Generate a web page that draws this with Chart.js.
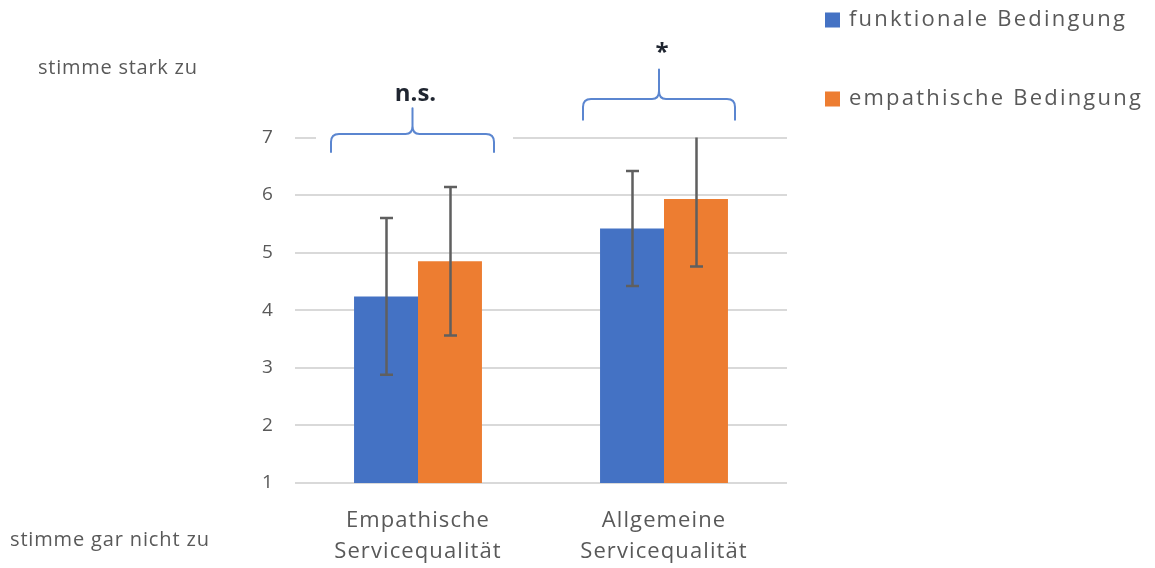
<!DOCTYPE html>
<html lang="de">
<head>
<meta charset="utf-8">
<title>Servicequalität nach Bedingung</title>
<script src="https://cdn.jsdelivr.net/npm/chart.js@4.4.0/dist/chart.umd.min.js"></script>
<style>
  html, body { margin: 0; padding: 0; background: #ffffff; }
  #wrap { width: 1155px; height: 568px; position: relative; }
</style>
</head>
<body>
<div id="wrap"><canvas id="chart" width="1155" height="568"></canvas></div>
<script>
// Categories and series
const categories = [['Empathische', 'Servicequalität'], ['Allgemeine', 'Servicequalität']];
const seriesNames = ['funktionale Bedingung', 'empathische Bedingung'];
const funktionalMeans = [4.24, 5.42];
const empathischMeans = [4.85, 5.93];
const funktionalSD = [1.36, 1.00];
const empathischSD = [1.29, 1.17];
const yTickValues = [1, 2, 3, 4, 5, 6, 7];
const significanceLabels = ['n.s.', '*'];
const scaleEndLabels = ['stimme stark zu', 'stimme gar nicht zu'];

const BLUE = '#4472C4';
const ORANGE = '#ED7D31';
const GREY_TEXT = '#595959';
const FONT = '"Open Sans", "Noto Sans", sans-serif';

// Slightly tracked axis text
const textTracking = {
  id: 'textTracking',
  beforeDraw(chart) { chart.ctx.letterSpacing = '1.1px'; },
  afterDatasetsDraw(chart) { chart.ctx.letterSpacing = '0px'; }
};

// Error bars (mean ± SD), clipped to the plot area
const errorBars = {
  id: 'errorBars',
  afterDatasetsDraw(chart) {
    const { ctx, chartArea, scales: { y } } = chart;
    const sds = [funktionalSD, empathischSD];
    ctx.save();
    ctx.strokeStyle = '#5f5f5f';
    ctx.lineWidth = 2.5;
    chart.data.datasets.forEach((ds, di) => {
      const meta = chart.getDatasetMeta(di);
      meta.data.forEach((bar, i) => {
        const v = ds.data[i];
        const sd = sds[di][i];
        let top = y.getPixelForValue(v + sd);
        let bottom = y.getPixelForValue(v - sd);
        const clippedTop = top < chartArea.top;
        const clippedBottom = bottom > chartArea.bottom;
        top = Math.max(top, chartArea.top);
        bottom = Math.min(bottom, chartArea.bottom);
        const x = Math.round(bar.x) + 0.5;
        const cap = 6.5;
        ctx.beginPath();
        ctx.moveTo(x, top);
        ctx.lineTo(x, bottom);
        if (!clippedTop) { ctx.moveTo(x - cap, top); ctx.lineTo(x + cap, top); }
        if (!clippedBottom) { ctx.moveTo(x - cap, bottom); ctx.lineTo(x + cap, bottom); }
        ctx.stroke();
      });
    });
    ctx.restore();
  }
};

// Curly braces with significance markers above each category
const braceLayout = [
  { left: -87, right: 76, bottom: 6.75, mid: 7.06, tip: 7.51, textY: 7.76, textDx: 3 },
  { left: -81, right: 71, bottom: 7.31, mid: 7.67, tip: 8.18, textY: 8.47, textDx: 3 }
];

function drawBrace(ctx, x0, x1, yb, ym, yt) {
  const xc = (x0 + x1) / 2;
  const r = 8;
  ctx.beginPath();
  ctx.moveTo(x0, yb);
  ctx.lineTo(x0, ym + r);
  ctx.quadraticCurveTo(x0, ym, x0 + r, ym);
  ctx.lineTo(xc - 7, ym);
  ctx.quadraticCurveTo(xc, ym, xc, ym - 8);
  ctx.lineTo(xc, yt);
  ctx.moveTo(xc, ym - 8);
  ctx.quadraticCurveTo(xc, ym, xc + 7, ym);
  ctx.lineTo(x1 - r, ym);
  ctx.quadraticCurveTo(x1, ym, x1, ym + r);
  ctx.lineTo(x1, yb);
  ctx.stroke();
}

const braces = {
  id: 'braces',
  afterDraw(chart) {
    const { ctx, scales: { x, y } } = chart;
    ctx.save();
    ctx.letterSpacing = '0px';
    braceLayout.forEach((b, i) => {
      const cx = x.getPixelForValue(i);
      const x0 = cx + b.left, x1 = cx + b.right;
      const yb = y.getPixelForValue(b.bottom);
      const ym = y.getPixelForValue(b.mid);
      const yt = y.getPixelForValue(b.tip);
      // white backing box behind the brace
      ctx.fillStyle = '#ffffff';
      ctx.fillRect(x0 - 15, yt - 4, (x1 - x0) + 34, (yb - yt) + 6);
      ctx.strokeStyle = '#5b86d0';
      ctx.lineWidth = 2;
      ctx.lineCap = 'round';
      drawBrace(ctx, x0, x1, yb, ym, yt);
      ctx.fillStyle = '#1f2530';
      ctx.font = 'bold 24px ' + FONT;
      ctx.textAlign = 'center';
      ctx.textBaseline = 'middle';
      ctx.fillText(significanceLabels[i], (x0 + x1) / 2 + b.textDx, y.getPixelForValue(b.textY));
    });
    ctx.restore();
  }
};

// Legend and scale-end captions
const sideTexts = {
  id: 'sideTexts',
  afterDraw(chart) {
    const { ctx } = chart;
    ctx.save();
    ctx.textBaseline = 'middle';
    ctx.textAlign = 'left';
    const colors = [BLUE, ORANGE];
    const rows = [20, 99];
    seriesNames.forEach((name, i) => {
      ctx.fillStyle = colors[i];
      ctx.fillRect(825, rows[i] - 7.5, 15, 15);
      ctx.fillStyle = GREY_TEXT;
      ctx.font = '22px ' + FONT;
      ctx.letterSpacing = '2.2px';
      ctx.fillText(name, 849, rows[i]);
    });
    ctx.fillStyle = GREY_TEXT;
    ctx.font = '20px ' + FONT;
    ctx.letterSpacing = '0.75px';
    ctx.fillText(scaleEndLabels[0], 38, 68);
    ctx.letterSpacing = '0.85px';
    ctx.fillText(scaleEndLabels[1], 10, 540);
    ctx.restore();
  }
};

new Chart(document.getElementById('chart'), {
  type: 'bar',
  data: {
    labels: categories,
    datasets: [
      { label: seriesNames[0], data: funktionalMeans, backgroundColor: BLUE, borderWidth: 0 },
      { label: seriesNames[1], data: empathischMeans, backgroundColor: ORANGE, borderWidth: 0 }
    ]
  },
  options: {
    responsive: false,
    animation: false,
    events: [],
    layout: { padding: { top: 137.5, right: 368, left: 0, bottom: 0 } },
    datasets: { bar: { categoryPercentage: 0.52, barPercentage: 1.0 } },
    plugins: { legend: { display: false }, tooltip: { enabled: false } },
    scales: {
      x: {
        grid: { display: false, drawTicks: false },
        border: { display: false },
        ticks: { color: GREY_TEXT, font: { family: FONT, size: 22, lineHeight: 1.41 }, padding: 22.5, maxRotation: 0 },
        afterFit(scale) { scale.height = 85; }
      },
      y: {
        min: 1,
        max: 7,
        afterBuildTicks(scale) { scale.ticks = yTickValues.map(v => ({ value: v })); },
        grid: { color: '#d9d9d9', lineWidth: 2, drawTicks: false },
        border: { display: false },
        ticks: { color: GREY_TEXT, font: { family: FONT, size: 19 }, padding: 21 },
        afterFit(scale) { scale.width = 295; }
      }
    }
  },
  plugins: [textTracking, errorBars, braces, sideTexts]
});
</script>
</body>
</html>
